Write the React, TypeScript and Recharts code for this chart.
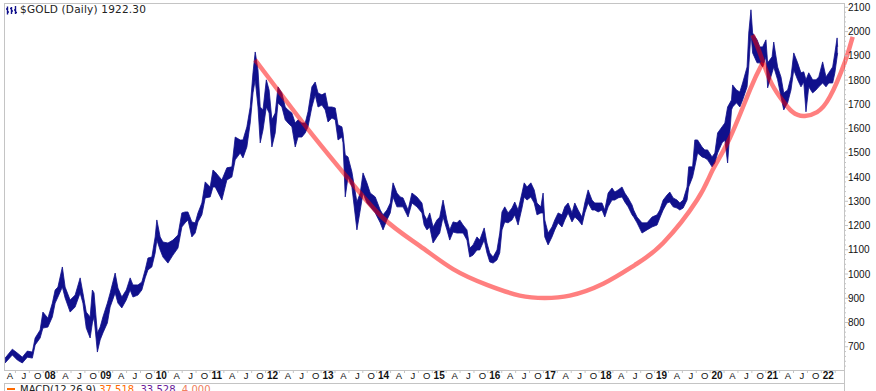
import React from "react";
import { ComposedChart, Area, Line, XAxis, YAxis } from "recharts";

// daily gold, sampled every few pixels: date (decimal year), low, high
const dates = [
  2007.19, 2007.32, 2007.41, 2007.50, 2007.59, 2007.68, 2007.73, 2007.82, 2007.87, 2007.96,
  2008.04, 2008.09, 2008.14, 2008.22, 2008.27, 2008.36, 2008.45, 2008.54, 2008.59, 2008.65,
  2008.72, 2008.76, 2008.79, 2008.85, 2008.90, 2008.95, 2009.03, 2009.08, 2009.17, 2009.22,
  2009.29, 2009.37, 2009.44, 2009.49, 2009.58, 2009.65, 2009.71, 2009.76, 2009.83, 2009.89,
  2009.92, 2009.98, 2010.03, 2010.12, 2010.21, 2010.30, 2010.37, 2010.43, 2010.48, 2010.55,
  2010.61, 2010.66, 2010.73, 2010.79, 2010.88, 2010.93, 2010.97, 2011.09, 2011.18, 2011.27,
  2011.33, 2011.42, 2011.47, 2011.54, 2011.60, 2011.65, 2011.69, 2011.74, 2011.78, 2011.83,
  2011.89, 2011.94, 2011.99, 2012.05, 2012.10, 2012.17, 2012.23, 2012.28, 2012.35, 2012.41,
  2012.46, 2012.53, 2012.59, 2012.64, 2012.71, 2012.77, 2012.82, 2012.89, 2012.95, 2013.00,
  2013.07, 2013.13, 2013.18, 2013.25, 2013.27, 2013.31, 2013.36, 2013.43, 2013.52, 2013.58,
  2013.63, 2013.70, 2013.76, 2013.85, 2013.94, 2013.99, 2014.06, 2014.12, 2014.17, 2014.24,
  2014.30, 2014.35, 2014.44, 2014.51, 2014.60, 2014.69, 2014.73, 2014.78, 2014.83, 2014.89,
  2014.96, 2015.01, 2015.07, 2015.14, 2015.19, 2015.25, 2015.32, 2015.37, 2015.43, 2015.50,
  2015.55, 2015.61, 2015.68, 2015.73, 2015.81, 2015.86, 2015.91, 2015.97, 2016.04, 2016.09,
  2016.13, 2016.18, 2016.24, 2016.31, 2016.36, 2016.42, 2016.49, 2016.53, 2016.58, 2016.65,
  2016.71, 2016.76, 2016.83, 2016.87, 2016.90, 2016.96, 2017.03, 2017.08, 2017.14, 2017.21,
  2017.26, 2017.32, 2017.39, 2017.44, 2017.50, 2017.57, 2017.62, 2017.68, 2017.75, 2017.80,
  2017.86, 2017.93, 2017.98, 2018.04, 2018.11, 2018.16, 2018.22, 2018.29, 2018.34, 2018.40,
  2018.47, 2018.50, 2018.56, 2018.65, 2018.74, 2018.83, 2018.92, 2018.97, 2019.03, 2019.10,
  2019.15, 2019.21, 2019.28, 2019.33, 2019.39, 2019.46, 2019.49, 2019.56, 2019.60, 2019.65,
  2019.73, 2019.78, 2019.83, 2019.91, 2019.96, 2020.01, 2020.09, 2020.14, 2020.19, 2020.26,
  2020.28, 2020.35, 2020.41, 2020.46, 2020.54, 2020.57, 2020.61, 2020.64, 2020.72, 2020.77,
  2020.82, 2020.88, 2020.91, 2020.99, 2021.02, 2021.09, 2021.15, 2021.20, 2021.27, 2021.33,
  2021.38, 2021.45, 2021.51, 2021.56, 2021.60, 2021.65, 2021.72, 2021.78, 2021.83, 2021.90,
  2021.96, 2022.01, 2022.08, 2022.12, 2022.16, 2022.17,
];

const lows = [
  633, 666, 645, 633, 657, 653, 707, 736, 777, 781,
  823, 880, 905, 946, 901, 843, 864, 922, 880, 777,
  736, 798, 823, 678, 728, 757, 798, 864, 922, 880,
  860, 893, 934, 905, 913, 934, 984, 1017, 1029, 1087,
  1140, 1099, 1070, 1045, 1078, 1107, 1194, 1211, 1223, 1153,
  1169, 1215, 1244, 1314, 1318, 1359, 1359, 1305, 1388, 1400,
  1471, 1499, 1479, 1524, 1623, 1747, 1801, 1689, 1541, 1594,
  1689, 1664, 1524, 1582, 1706, 1689, 1636, 1623, 1607, 1524,
  1565, 1565, 1582, 1607, 1689, 1739, 1689, 1697, 1677, 1627,
  1644, 1636, 1553, 1565, 1541, 1318, 1400, 1359, 1182, 1264,
  1334, 1293, 1277, 1252, 1211, 1182, 1223, 1252, 1318, 1277,
  1277, 1277, 1235, 1293, 1277, 1252, 1202, 1182, 1194, 1128,
  1153, 1169, 1235, 1182, 1140, 1173, 1169, 1169, 1169, 1140,
  1070, 1078, 1099, 1099, 1140, 1087, 1050, 1045, 1058, 1087,
  1182, 1215, 1211, 1223, 1244, 1202, 1272, 1318, 1305, 1318,
  1293, 1244, 1252, 1252, 1153, 1120, 1153, 1182, 1211, 1194,
  1223, 1252, 1215, 1235, 1223, 1202, 1252, 1293, 1264, 1264,
  1256, 1264, 1235, 1277, 1305, 1305, 1314, 1318, 1297, 1277,
  1244, 1235, 1211, 1169, 1182, 1194, 1202, 1231, 1264, 1293,
  1297, 1277, 1272, 1264, 1272, 1305, 1359, 1400, 1442, 1499,
  1483, 1479, 1471, 1442, 1458, 1499, 1541, 1553, 1458, 1677,
  1689, 1706, 1689, 1718, 1772, 1854, 1994, 1912, 1871, 1871,
  1854, 1896, 1768, 1830, 1854, 1801, 1731, 1677, 1706, 1759,
  1842, 1801, 1772, 1792, 1669, 1772, 1747, 1759, 1772, 1788,
  1772, 1788, 1788, 1830, 1896, 1912,
];

const highs = [
  653, 690, 674, 657, 682, 678, 736, 769, 843, 818,
  880, 934, 946, 1029, 946, 893, 913, 984, 922, 843,
  823, 934, 922, 757, 781, 823, 880, 922, 1004, 942,
  905, 934, 984, 955, 955, 967, 1017, 1066, 1070, 1153,
  1223, 1153, 1132, 1128, 1140, 1161, 1252, 1256, 1256, 1215,
  1211, 1252, 1293, 1380, 1359, 1429, 1421, 1388, 1438, 1442,
  1565, 1553, 1553, 1607, 1689, 1830, 1916, 1842, 1689, 1677,
  1801, 1759, 1636, 1664, 1772, 1747, 1689, 1677, 1664, 1623,
  1636, 1623, 1623, 1669, 1772, 1792, 1747, 1739, 1747, 1689,
  1689, 1685, 1615, 1607, 1582, 1491, 1483, 1421, 1297, 1334,
  1417, 1376, 1334, 1318, 1264, 1244, 1264, 1293, 1376, 1334,
  1318, 1314, 1264, 1334, 1318, 1293, 1244, 1223, 1252, 1194,
  1223, 1235, 1305, 1223, 1182, 1215, 1211, 1223, 1202, 1182,
  1107, 1120, 1153, 1140, 1190, 1128, 1087, 1070, 1099, 1169,
  1256, 1277, 1252, 1272, 1297, 1264, 1334, 1376, 1359, 1376,
  1347, 1293, 1277, 1334, 1223, 1169, 1194, 1223, 1252, 1244,
  1277, 1293, 1252, 1293, 1264, 1235, 1293, 1347, 1305, 1293,
  1293, 1293, 1264, 1334, 1355, 1338, 1347, 1359, 1334, 1314,
  1285, 1264, 1235, 1211, 1211, 1235, 1244, 1264, 1305, 1326,
  1338, 1314, 1305, 1293, 1305, 1359, 1442, 1442, 1553, 1553,
  1524, 1512, 1512, 1483, 1499, 1582, 1607, 1623, 1689, 1718,
  1780, 1759, 1751, 1788, 1854, 1994, 2090, 1994, 1966, 1937,
  1937, 1966, 1871, 1896, 1957, 1854, 1813, 1747, 1759, 1813,
  1912, 1871, 1830, 1834, 1801, 1830, 1801, 1801, 1813, 1875,
  1813, 1830, 1854, 1912, 1974, 1937,
];

// hand drawn cup and handle
const cupDates = [2011.69, 2012.62, 2013.34, 2013.99, 2014.65, 2015.25, 2015.86, 2016.45, 2016.9, 2017.35, 2017.95, 2018.52, 2019.03, 2019.64, 2019.92, 2020.23, 2020.59, 2020.82];
const cupValues = [1883, 1603, 1400, 1231, 1116, 1020, 955, 911, 901, 911, 960, 1037, 1128, 1305, 1429, 1561, 1759, 1871];
const handleDates = [2020.64, 2020.77, 2020.95, 2021.13, 2021.36, 2021.58, 2021.8, 2022.03, 2022.3, 2022.44];
const handleValues = [1986, 1912, 1801, 1731, 1668, 1652, 1668, 1731, 1875, 1978];

const yearLabels = ["08", "09", "10", "11", "12", "13", "14", "15", "16", "17", "18", "19", "20", "21", "22"];
const monthLetters = ["A", "J", "O"];
const priceLabels = [700, 800, 900, 1000, 1100, 1200, 1300, 1400, 1500, 1600, 1700, 1800, 1900, 2000, 2100];

const priceRows = dates.map((t, i) => ({ t, range: [lows[i], highs[i]] }));
const cupRows = cupDates.map((t, i) => ({ t, v: cupValues[i] }));
const handleRows = handleDates.map((t, i) => ({ t, v: handleValues[i] }));

// quarter ticks: A J O then the year
const xTickValues: number[] = [];
const xTickLabels: string[] = [];
monthLetters.forEach((m, k) => { xTickValues.push(2007.25 + k * 0.25); xTickLabels.push(m); });
yearLabels.forEach((yl, n) => {
  xTickValues.push(2008 + n); xTickLabels.push(yl);
  if (n < yearLabels.length - 1) {
    monthLetters.forEach((m, k) => { xTickValues.push(2008 + n + (k + 1) * 0.25); xTickLabels.push(m); });
  }
});

const yTickValues: number[] = [];
for (let v = 620; v <= 2100; v += 20) yTickValues.push(v);

const AXIS_X = 844;
const GRID = "#c4c4c4";
const NAVY = "#10108c";

function XTick(props: any) {
  const { x, payload } = props;
  const label = xTickLabels[xTickValues.indexOf(payload.value)];
  const isYear = /\d/.test(label);
  return (
    <g>
      <line x1={x + 7} x2={x + 7} y1={370} y2={373} stroke={GRID} />
      <text x={isYear ? x : x + 1.5} y={379} textAnchor="middle" fontSize={isYear ? 10 : 9.5}
        fontWeight={isYear ? 700 : 400} fontFamily="'Liberation Sans', Arial" fill="#111">{label}</text>
    </g>
  );
}

function YTick(props: any) {
  const { y, payload } = props;
  const major = priceLabels.includes(payload.value);
  return (
    <g>
      <line x1={AXIS_X + 1} x2={AXIS_X + (major ? 4 : 2)} y1={y} y2={y} stroke={GRID} />
      {major && (
        <text x={AXIS_X + 4} y={y + 3.6} fontSize={10} fontFamily="'Liberation Sans', Arial" fill="#111">{payload.value}</text>
      )}
    </g>
  );
}

export default function App() {
  return (
    <div style={{ position: "absolute", left: 0, top: 0, width: 876, height: 391, overflow: "hidden", background: "#fff" }}>
      {/* panel frames */}
      <div style={{ position: "absolute", left: 4, top: 3, width: 841, height: 368, border: `1px solid ${GRID}`, boxSizing: "border-box" }} />
      <div style={{ position: "absolute", left: AXIS_X, top: 370, width: 1, height: 21, background: GRID }} />
      <div style={{ position: "absolute", left: 4, top: 383, width: 841, height: 20, border: `1px solid ${GRID}`, boxSizing: "border-box" }} />

      <div style={{ position: "absolute", left: 0, top: 0 }}>
        <ComposedChart width={876} height={391} data={priceRows} margin={{ top: 3, right: 0, bottom: 0, left: 4 }}>
          <XAxis type="number" dataKey="t" domain={[2007.17, 2022.5]} allowDataOverflow ticks={xTickValues}
            interval={0} tick={<XTick />} tickLine={false} axisLine={false} height={21} />
          <YAxis orientation="right" type="number" domain={[604, 2118]} allowDataOverflow ticks={yTickValues}
            interval={0} tick={<YTick />} tickLine={false} axisLine={false} width={20} />
          <Area type="linear" dataKey="range" stroke={NAVY} strokeWidth={0.8} fill={NAVY} fillOpacity={1}
            dot={false} activeDot={false} isAnimationActive={false} />
          <Line data={cupRows} type="natural" dataKey="v" stroke="#ff0000" strokeOpacity={0.5} strokeWidth={4.5}
            dot={false} activeDot={false} isAnimationActive={false} />
          <Line data={handleRows} type="natural" dataKey="v" stroke="#ff0000" strokeOpacity={0.5} strokeWidth={4.5}
            dot={false} activeDot={false} isAnimationActive={false} />
        </ComposedChart>
      </div>

      {/* title */}
      <div style={{ position: "absolute", left: 6, top: 6, display: "flex", alignItems: "center" }}>
        <svg width="11" height="9" style={{ display: "block" }}>
          <path d="M1.5 0.5v8M0 3h1.5M1.5 6h1.5M5.5 1v7M4 2.5h1.5M5.5 5h1.5M9.5 0v8M8 4h1.5M9.5 6.5h1.5" stroke={NAVY} strokeWidth={1.4} fill="none" />
        </svg>
      </div>
      <div style={{ position: "absolute", left: 20, top: 1, fontFamily: "'DejaVu Sans', Verdana", fontSize: 10.5, letterSpacing: 0.2, lineHeight: "16px", color: "#222", whiteSpace: "nowrap" }}>
        $GOLD (Daily) 1922.30
      </div>

      {/* indicator panel header, cut by the frame as in the source */}
      <div style={{ position: "absolute", left: 7, top: 388, width: 8, height: 2, background: "#ff6a00" }} />
      <div style={{ position: "absolute", left: 20, top: 384, fontFamily: "'DejaVu Sans', Verdana", fontSize: 10, lineHeight: "12px", color: "#222", whiteSpace: "nowrap" }}>
        MACD(12,26,9) <span style={{ color: "#ff6a00" }}>37.518</span>, <span style={{ color: "#6a1b9a" }}>33.528</span>, <span style={{ color: "#f08060" }}>4.000</span>
      </div>
    </div>
  );
}
